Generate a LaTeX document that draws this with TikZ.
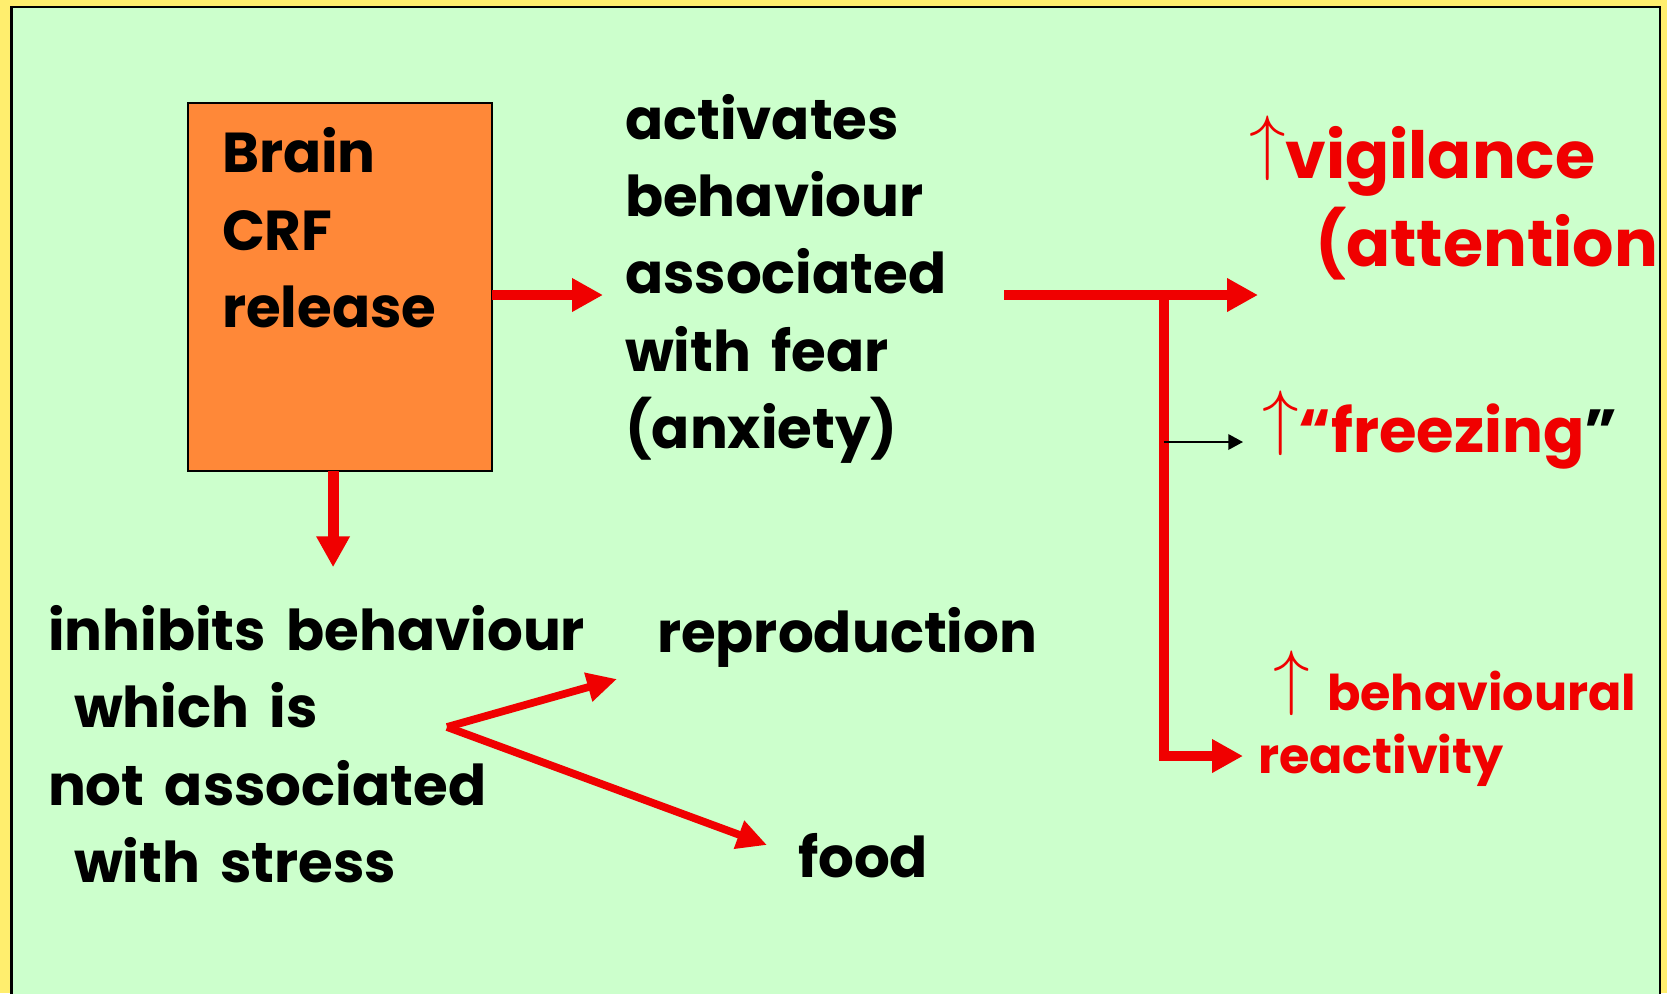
\documentclass[tikz,border=0pt]{standalone}
\usepackage{fontspec}
\setmainfont{Poppins}[WordSpace=1.7]
\usetikzlibrary{arrows.meta, positioning, calc}
\definecolor{panelgreen}{RGB}{204,255,204}
\definecolor{edgeyellow}{RGB}{255,238,110}
\definecolor{crforange}{RGB}{255,136,56}
\definecolor{alarmred}{RGB}{240,0,0}
\newcommand{\upar}{\raisebox{0.18em}{\fontsize{21}{21}\selectfont$\uparrow$}}

\begin{document}
\begin{tikzpicture}[
  x=0.01cm, y=-0.01cm,
  every node/.style={inner sep=0pt, outer sep=0pt},
  txt/.style={anchor=base west, align=left, font=\fontsize{16}{21.9}\selectfont\bfseries},
  redtxt/.style={txt, text=alarmred, font=\fontsize{18.5}{25}\selectfont\bfseries},
  smalltxt/.style={txt, text=alarmred, font=\fontsize{14}{17.9}\selectfont\bfseries},
  crfbox/.style={rectangle, draw, line width=0.7pt, fill=crforange, anchor=north west, minimum width=3.04cm, minimum height=3.68cm},
  bigarr/.style={-{Triangle[length=8.8pt, width=9pt]}, line width=3.1pt, alarmred},
  diagarr/.style={-{Triangle[length=8.5pt, width=8pt]}, line width=2.2pt, alarmred},
  thinarr/.style={-{Triangle[length=4.2pt, width=4.4pt]}, line width=0.6pt, black},
]
\useasboundingbox (0,0) rectangle (1667,993);
\clip (0,0) rectangle (1667,993);

% slide background
\fill[edgeyellow] (0,0) rectangle (1667,993);
\draw[fill=panelgreen, line width=0.7pt] (11.5,7) rectangle (1660,1010);

% CRF box (text nodes sit on the baseline of their last line)
\node[crfbox] (crf) at (188,103) {};
\node[txt] (crftxt) at (222,327) {Brain\\CRF\\release};

% what it does
\node[txt] (act) at (625,448) {activates\\behaviour\\associated\\with fear\\(anxiety)};
\node[txt] (inhib) at (48,882) {inhibits behaviour\\\hspace*{0.26cm}which is\\not associated\\\hspace*{0.26cm}with stress};
\node[txt] (repro) at (657,652) {reproduction};
\node[txt] (food) at (798,877) {food};

% effects
\node[redtxt] (vig) at (1249,266) {\upar vigilance\\\hspace*{0.66cm}(attention};
\node[redtxt, font=\fontsize{17.3}{20}\selectfont\bfseries] (frz) at (1262,452) {\upar“freezing\textcolor{black}{”}};
\node[smalltxt] (behav) at (1273,710) {\upar\ behavioural};
\node[smalltxt] (react) at (1258,773) {reactivity};

% junctions
\coordinate (split) at (1164,295);
\coordinate (fearout) at (1004,295);
\coordinate (fork) at (447,727);

% arrows
\draw[bigarr] (crf.east |- split) -- ($(act.west |- split)+(-22,0)$);
\draw[bigarr] (fearout) -- ($(vig.west |- split)+(9,0)$);
\draw[bigarr] (split) |- ($(react.base west)+(-15,-17)$);
\draw[thinarr] ($(split |- frz.base west)+(0,-10)$) -- ($(frz.base west)+(-19,-10)$);
\draw[bigarr] ($(crf.south)+(-7,0)$) -- ($(crf.south)+(-7,96)$);
\draw[diagarr] (fork) -- ($(repro.base west)+(-40,27)$);
\draw[diagarr] (fork) -- ($(food.base west)+(-31,-32)$);

\end{tikzpicture}
\end{document}
